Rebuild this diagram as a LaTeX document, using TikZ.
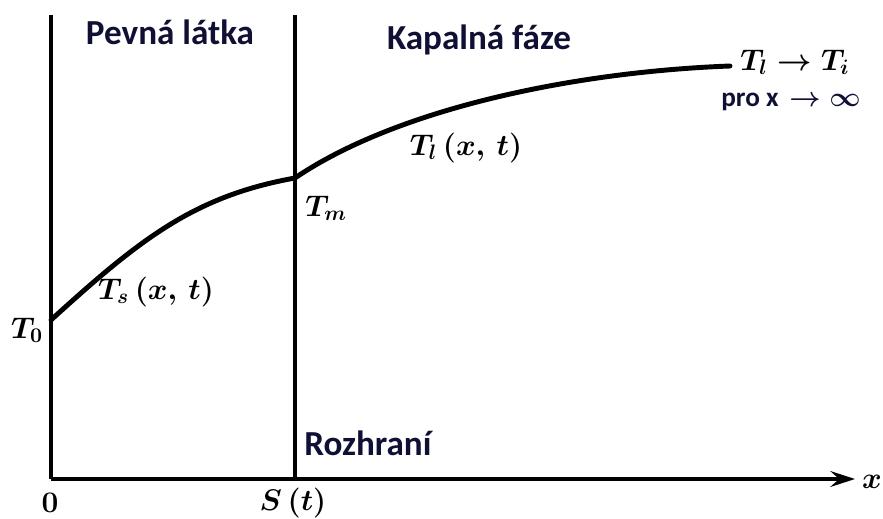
\RequirePackage{fix-cm}
\documentclass[tikz,border=0pt]{standalone}
\usepackage{amsmath,amssymb}
\usepackage{fontspec}
\newfontfamily\czfont{Carlito}
\usepackage{tikz}
\usetikzlibrary{arrows.meta}
\definecolor{labelnavy}{RGB}{16,16,52}

\begin{document}
\begin{tikzpicture}[x=0.02cm,y=-0.02cm,
  wall/.style={line width=2pt},
  profile/.style={line width=2.8pt,line cap=round},
  region/.style={font=\czfont\bfseries\fontsize{20}{22}\selectfont,
    text=labelnavy,inner sep=0pt},
  note/.style={font=\czfont\bfseries\boldmath\fontsize{15.5}{17}\selectfont,
    text=labelnavy,inner sep=0pt},
  sym/.style={font=\boldmath\fontsize{17}{20}\selectfont,inner sep=0pt},
  >={Stealth[length=14pt,width=9pt,inset=5pt]}
]
\useasboundingbox (0,0) rectangle (883,518);
%% frame
\coordinate (orig) at (51,479);
\coordinate (top0) at (51,15);
\coordinate (sbot) at (295,479);
\coordinate (stop) at (295,15);
\coordinate (xend) at (855,479);
\draw[wall] (top0) -- (orig);
\draw[wall] (stop) -- (sbot);
\draw[wall,->] (orig) -- (xend);
%% temperature profile
\coordinate (t0) at (51,320);
\coordinate (tm) at (295,178);
\coordinate (tinf) at (730,66);
\draw[profile] (t0) .. controls (141,238) and (195,196) .. (tm)
  .. controls (395,110) and (570,72) .. (tinf);
%% regions
\node[region] (solid) at (170,32) {Pevná látka};
\node[region] (liquid) at (479,40) {Kapalná fáze};
\node[region,anchor=west] (iface) at (304,443) {Rozhraní};
%% symbols
\node[sym] (tzero) at (27,330) {$T_0$};
\node[sym] (tsol) at (156,292) {$T_s\,(x,\,t)$};
\node[sym] (tmelt) at (326,208) {$T_m$};
\node[sym] (tliq) at (466,148) {$T_l\,(x,\,t)$};
\node[sym] (tlim) at (795,62) {$T_l \to T_i$};
\node[note] (limx) at (791,102) {pro x \,$\to\infty$};
%% axis marks
\node[sym] (zero) at (50,503) {$0$};
\node[sym] (spos) at (293,503) {$S\,(t)$};
\node[sym] (xlab) at (872,482) {$x$};
\end{tikzpicture}
\end{document}
